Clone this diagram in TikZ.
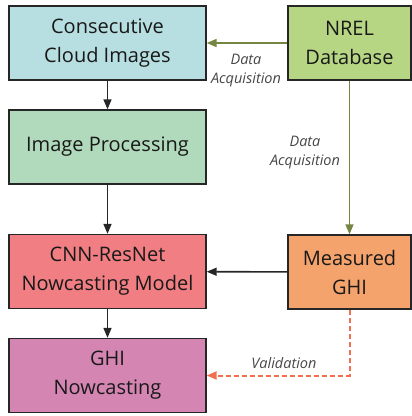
\documentclass[tikz,border=0pt]{standalone}
\usepackage{fontspec}
\setmainfont{Open Sans}
\usetikzlibrary{arrows.meta,positioning}

\definecolor{cloudfill}{RGB}{183,222,224}
\definecolor{nrelfill}{RGB}{182,214,132}
\definecolor{procfill}{RGB}{177,217,188}
\definecolor{modelfill}{RGB}{240,126,130}
\definecolor{ghifill}{RGB}{245,163,108}
\definecolor{nowfill}{RGB}{212,133,178}
\definecolor{acqline}{RGB}{116,134,66}
\definecolor{valline}{RGB}{240,112,80}
\definecolor{labgray}{RGB}{70,70,70}

\tikzset{
  block/.style={draw=black!85, line width=1.4pt, align=center, inner sep=0pt,
    minimum height=74pt, font=\fontsize{20}{29}\selectfont, text=black!90},
  wide/.style={block, minimum width=197pt},
  narrow/.style={block, minimum width=123pt},
  flow/.style={line width=1.6pt, draw=black!85, -{Triangle[length=10pt,width=8pt]}},
  acq/.style={flow, draw=acqline, -{Triangle[length=10pt,width=8pt,fill=acqline]}},
  val/.style={flow, draw=valline, line width=2pt, dash pattern=on 5pt off 3pt,
    -{Triangle[length=10pt,width=8pt,fill=valline]}},
  edgelab/.style={font=\itshape\fontsize{14.5}{19}\selectfont, text=labgray, align=center}
}

\begin{document}
\begin{tikzpicture}[x=1pt, y=-1pt]
  \useasboundingbox (0,0) rectangle (412,416);
  % left column
  \node[wide, fill=cloudfill] (cloud) at (107.5,43) {Consecutive\\Cloud Images};
  \node[wide, fill=procfill] (proc) at (107.5,147) {Image Processing};
  \node[wide, fill=modelfill] (model) at (107.5,271.5) {CNN-ResNet\\Nowcasting Model};
  \node[wide, fill=nowfill] (nowcast) at (107.5,375.5) {GHI\\Nowcasting};
  % right column
  \node[narrow, fill=nrelfill] (nrel) at (349.5,43) {NREL\\Database};
  \node[narrow, fill=ghifill] (ghi) at (349.5,272) {Measured\\GHI};
  % connectors
  \draw[flow] (cloud) -- (proc);
  \draw[flow] (proc) -- (model);
  \draw[flow] (model) -- (nowcast);
  \draw[flow] (ghi) -- (model);
  \draw[acq] (nrel) -- (cloud);
  \draw[acq] (nrel) -- (ghi);
  \draw[val] (ghi.south) |- (nowcast.east);
  % labels
  \node[edgelab] (lab1) at (246,71) {Data\\Acquisition};
  \node[edgelab] (lab2) at (305,153) {Data\\Acquisition};
  \node[edgelab] (lab3) at (284,363) {Validation};
\end{tikzpicture}
\end{document}
